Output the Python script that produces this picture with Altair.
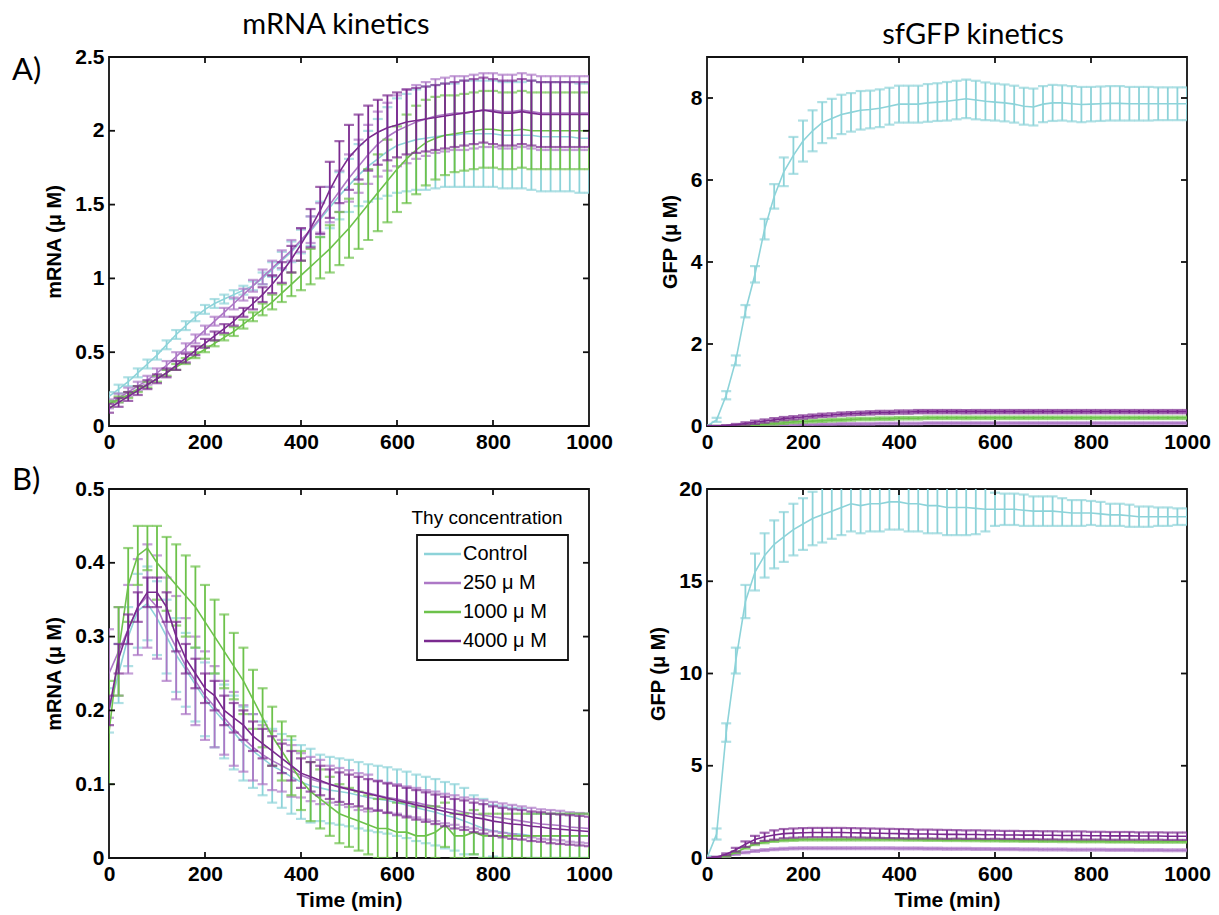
import altair as alt
import pandas as pd

TIME = list(range(0, 1001, 20))
SERIES = ["Control", "250 μ M", "1000 μ M", "4000 μ M"]
COLORS = ["#8dd3d9", "#ad78c6", "#6dc24b", "#7a2a8f"]
X_TICKS = [0, 200, 400, 600, 800, 1000]

# ---------------- A) mRNA (uM) ----------------
A_MRNA_CTRL = [0.20, 0.25, 0.30, 0.36, 0.42, 0.48, 0.55, 0.62, 0.68, 0.74,
               0.79, 0.83, 0.86, 0.89, 0.92, 0.95, 1.00, 1.06, 1.12, 1.18,
               1.25, 1.32, 1.40, 1.48, 1.56, 1.63, 1.70, 1.76, 1.81, 1.86,
               1.90, 1.92, 1.94, 1.95, 1.96, 1.97, 1.97, 1.98, 1.98, 1.98,
               1.98, 1.97, 1.97, 1.97, 1.97, 1.96, 1.96, 1.96, 1.96, 1.95,
               1.95]
A_MRNA_CTRL_ERR = [0.03, 0.03, 0.03, 0.03, 0.03, 0.03, 0.03, 0.03, 0.03, 0.03,
                   0.03, 0.03, 0.03, 0.03, 0.03, 0.03, 0.04, 0.05, 0.06, 0.07,
                   0.08, 0.10, 0.12, 0.14, 0.16, 0.18, 0.21, 0.24, 0.27, 0.30,
                   0.32, 0.33, 0.34, 0.35, 0.35, 0.35, 0.35, 0.36, 0.36, 0.36,
                   0.36, 0.36, 0.36, 0.36, 0.37, 0.37, 0.37, 0.37, 0.37, 0.37,
                   0.37]
A_MRNA_250 = [0.15, 0.19, 0.23, 0.27, 0.31, 0.36, 0.41, 0.47, 0.53, 0.59,
              0.65, 0.71, 0.77, 0.83, 0.89, 0.95, 1.01, 1.07, 1.13, 1.19,
              1.26, 1.33, 1.41, 1.50, 1.59, 1.68, 1.76, 1.84, 1.91, 1.96,
              2.00, 2.03, 2.06, 2.08, 2.10, 2.11, 2.12, 2.12, 2.13, 2.14,
              2.14, 2.13, 2.13, 2.14, 2.13, 2.12, 2.12, 2.12, 2.12, 2.12,
              2.12]
A_MRNA_250_ERR = [0.03, 0.03, 0.03, 0.03, 0.03, 0.03, 0.03, 0.03, 0.03, 0.03,
                  0.03, 0.03, 0.03, 0.04, 0.04, 0.04, 0.05, 0.05, 0.06, 0.07,
                  0.08, 0.09, 0.10, 0.12, 0.14, 0.16, 0.18, 0.20, 0.22, 0.23,
                  0.24, 0.25, 0.25, 0.25, 0.25, 0.25, 0.25, 0.25, 0.25, 0.25,
                  0.25, 0.25, 0.25, 0.25, 0.25, 0.25, 0.25, 0.25, 0.25, 0.25,
                  0.25]
A_MRNA_1000 = [0.15, 0.18, 0.21, 0.25, 0.28, 0.32, 0.36, 0.40, 0.44, 0.48,
               0.52, 0.56, 0.60, 0.64, 0.69, 0.74, 0.79, 0.84, 0.90, 0.96,
               1.02, 1.08, 1.14, 1.20, 1.27, 1.34, 1.42, 1.50, 1.58, 1.66,
               1.74, 1.81, 1.87, 1.92, 1.95, 1.97, 1.98, 1.99, 2.00, 2.01,
               2.01, 2.00, 2.00, 2.01, 2.00, 2.00, 2.00, 2.00, 2.00, 2.00,
               2.00]
A_MRNA_1000_ERR = [0.02, 0.02, 0.02, 0.02, 0.02, 0.02, 0.02, 0.02, 0.02, 0.02,
                   0.02, 0.02, 0.02, 0.03, 0.03, 0.03, 0.04, 0.05, 0.06, 0.08,
                   0.10, 0.12, 0.14, 0.16, 0.18, 0.20, 0.22, 0.24, 0.26, 0.28,
                   0.29, 0.30, 0.30, 0.29, 0.28, 0.27, 0.26, 0.26, 0.26, 0.26,
                   0.26, 0.26, 0.26, 0.26, 0.26, 0.26, 0.26, 0.26, 0.26, 0.26,
                   0.26]
A_MRNA_4000 = [0.12, 0.16, 0.20, 0.24, 0.28, 0.32, 0.36, 0.41, 0.46, 0.51,
               0.56, 0.61, 0.66, 0.71, 0.77, 0.83, 0.89, 0.96, 1.04, 1.13,
               1.23, 1.34, 1.46, 1.60, 1.72, 1.82, 1.89, 1.95, 1.99, 2.02,
               2.04, 2.06, 2.07, 2.08, 2.09, 2.10, 2.11, 2.12, 2.13, 2.14,
               2.13, 2.12, 2.12, 2.13, 2.12, 2.11, 2.11, 2.11, 2.11, 2.11,
               2.11]
A_MRNA_4000_ERR = [0.03, 0.03, 0.03, 0.03, 0.03, 0.03, 0.03, 0.03, 0.03, 0.03,
                   0.03, 0.03, 0.03, 0.03, 0.03, 0.04, 0.05, 0.06, 0.07, 0.09,
                   0.11, 0.13, 0.16, 0.19, 0.21, 0.22, 0.22, 0.22, 0.22, 0.22,
                   0.22, 0.22, 0.22, 0.22, 0.22, 0.22, 0.22, 0.22, 0.22, 0.22,
                   0.22, 0.22, 0.22, 0.22, 0.22, 0.22, 0.22, 0.22, 0.22, 0.22,
                   0.22]

# ---------------- A) GFP (uM) ----------------
A_GFP_CTRL = [0.00, 0.15, 0.75, 1.60, 2.80, 3.70, 4.80, 5.60, 6.20, 6.60,
              6.95, 7.20, 7.40, 7.50, 7.60, 7.65, 7.70, 7.72, 7.75, 7.80,
              7.85, 7.85, 7.85, 7.88, 7.90, 7.92, 7.95, 7.98, 7.95, 7.92,
              7.90, 7.88, 7.85, 7.80, 7.78, 7.85, 7.88, 7.88, 7.86, 7.84,
              7.85, 7.86, 7.87, 7.87, 7.86, 7.86, 7.86, 7.86, 7.86, 7.86,
              7.86]
A_GFP_CTRL_ERR = [0.02, 0.05, 0.10, 0.12, 0.15, 0.20, 0.25, 0.30, 0.35, 0.45,
                  0.50, 0.50, 0.50, 0.48, 0.48, 0.47, 0.47, 0.46, 0.46, 0.45,
                  0.45, 0.45, 0.45, 0.46, 0.46, 0.47, 0.47, 0.47, 0.47, 0.46,
                  0.45, 0.45, 0.45, 0.45, 0.45, 0.44, 0.44, 0.43, 0.43, 0.43,
                  0.42, 0.42, 0.42, 0.42, 0.41, 0.41, 0.41, 0.40, 0.40, 0.40,
                  0.40]
A_GFP_250 = [0.00, 0.00, 0.00, 0.00, 0.00, 0.00, 0.01, 0.01, 0.02, 0.02,
             0.03, 0.03, 0.04, 0.04, 0.05, 0.05, 0.05, 0.05, 0.06, 0.06,
             0.06, 0.06, 0.06, 0.07, 0.07, 0.07, 0.07, 0.07, 0.07, 0.07,
             0.07, 0.07, 0.07, 0.07, 0.07, 0.07, 0.07, 0.07, 0.07, 0.07,
             0.07, 0.07, 0.07, 0.07, 0.07, 0.07, 0.07, 0.07, 0.07, 0.07,
             0.07]
A_GFP_250_ERR = [0.00, 0.00, 0.00, 0.00, 0.00, 0.01, 0.01, 0.02, 0.02, 0.02,
                 0.02, 0.02, 0.02, 0.02, 0.02, 0.02, 0.02, 0.02, 0.02, 0.02,
                 0.02, 0.02, 0.02, 0.02, 0.02, 0.02, 0.02, 0.02, 0.02, 0.02,
                 0.02, 0.02, 0.02, 0.02, 0.02, 0.02, 0.02, 0.02, 0.02, 0.02,
                 0.02, 0.02, 0.02, 0.02, 0.02, 0.02, 0.02, 0.02, 0.02, 0.02,
                 0.02]
A_GFP_1000 = [0.00, 0.00, 0.00, 0.00, 0.01, 0.02, 0.04, 0.06, 0.08, 0.10,
              0.11, 0.12, 0.13, 0.14, 0.15, 0.16, 0.17, 0.17, 0.18, 0.18,
              0.19, 0.19, 0.19, 0.20, 0.20, 0.20, 0.20, 0.20, 0.20, 0.20,
              0.20, 0.20, 0.20, 0.20, 0.20, 0.20, 0.20, 0.20, 0.20, 0.20,
              0.20, 0.20, 0.20, 0.20, 0.20, 0.20, 0.20, 0.20, 0.20, 0.20,
              0.20]
A_GFP_1000_ERR = [0.00, 0.00, 0.00, 0.01, 0.01, 0.02, 0.02, 0.03, 0.03, 0.03,
                  0.03, 0.03, 0.03, 0.03, 0.03, 0.03, 0.03, 0.03, 0.03, 0.03,
                  0.03, 0.03, 0.03, 0.03, 0.03, 0.03, 0.03, 0.03, 0.03, 0.03,
                  0.03, 0.03, 0.03, 0.03, 0.03, 0.03, 0.03, 0.03, 0.03, 0.03,
                  0.03, 0.03, 0.03, 0.03, 0.03, 0.03, 0.03, 0.03, 0.03, 0.03,
                  0.03]
A_GFP_4000 = [0.00, 0.00, 0.01, 0.03, 0.06, 0.09, 0.12, 0.15, 0.18, 0.20,
              0.22, 0.24, 0.26, 0.27, 0.29, 0.30, 0.31, 0.32, 0.33, 0.33,
              0.34, 0.34, 0.35, 0.35, 0.35, 0.35, 0.35, 0.35, 0.35, 0.35,
              0.35, 0.35, 0.35, 0.35, 0.35, 0.35, 0.35, 0.35, 0.35, 0.35,
              0.35, 0.35, 0.35, 0.35, 0.35, 0.35, 0.35, 0.35, 0.35, 0.35,
              0.35]
A_GFP_4000_ERR = [0.00, 0.00, 0.01, 0.02, 0.03, 0.04, 0.04, 0.04, 0.04, 0.04,
                  0.04, 0.04, 0.04, 0.04, 0.04, 0.04, 0.04, 0.04, 0.04, 0.04,
                  0.04, 0.04, 0.04, 0.04, 0.04, 0.04, 0.04, 0.04, 0.04, 0.04,
                  0.04, 0.04, 0.04, 0.04, 0.04, 0.04, 0.04, 0.04, 0.04, 0.04,
                  0.04, 0.04, 0.04, 0.04, 0.04, 0.04, 0.04, 0.04, 0.04, 0.04,
                  0.04]

# ---------------- B) mRNA (uM) ----------------
B_MRNA_CTRL = [0.20, 0.25, 0.30, 0.335, 0.345, 0.325, 0.30, 0.275, 0.255, 0.235,
               0.215, 0.20, 0.185, 0.17, 0.155, 0.145, 0.135, 0.125, 0.118, 0.11,
               0.103, 0.098, 0.095, 0.092, 0.09, 0.088, 0.085, 0.082, 0.08, 0.078,
               0.075, 0.072, 0.068, 0.065, 0.062, 0.058, 0.055, 0.05, 0.045, 0.04,
               0.037, 0.035, 0.033, 0.032, 0.03, 0.03, 0.03, 0.03, 0.03, 0.03,
               0.03]
B_MRNA_CTRL_ERR = [0.03, 0.04, 0.04, 0.05, 0.05, 0.05, 0.05, 0.05, 0.05, 0.05,
                   0.05, 0.05, 0.05, 0.05, 0.05, 0.05, 0.05, 0.05, 0.05, 0.05,
                   0.05, 0.05, 0.045, 0.045, 0.045, 0.045, 0.045, 0.045, 0.045, 0.045,
                   0.045, 0.045, 0.045, 0.045, 0.045, 0.045, 0.045, 0.045, 0.04, 0.04,
                   0.035, 0.035, 0.035, 0.035, 0.03, 0.03, 0.03, 0.03, 0.03, 0.03,
                   0.03]
B_MRNA_250 = [0.25, 0.28, 0.31, 0.34, 0.355, 0.34, 0.31, 0.285, 0.26, 0.24,
              0.22, 0.205, 0.19, 0.175, 0.162, 0.15, 0.14, 0.132, 0.125, 0.118,
              0.112, 0.107, 0.103, 0.10, 0.097, 0.094, 0.09, 0.088, 0.085, 0.082,
              0.08, 0.077, 0.075, 0.072, 0.07, 0.067, 0.065, 0.062, 0.06, 0.058,
              0.056, 0.054, 0.052, 0.05, 0.048, 0.046, 0.045, 0.044, 0.042, 0.041,
              0.04]
B_MRNA_250_ERR = [0.06, 0.06, 0.06, 0.065, 0.07, 0.07, 0.07, 0.07, 0.065, 0.06,
                  0.06, 0.055, 0.05, 0.05, 0.045, 0.045, 0.04, 0.04, 0.035, 0.035,
                  0.03, 0.03, 0.03, 0.025, 0.025, 0.025, 0.025, 0.025, 0.02, 0.02,
                  0.02, 0.02, 0.02, 0.02, 0.02, 0.02, 0.02, 0.02, 0.02, 0.02,
                  0.02, 0.02, 0.02, 0.02, 0.02, 0.02, 0.02, 0.02, 0.02, 0.02,
                  0.02]
B_MRNA_1000 = [0.17, 0.28, 0.37, 0.41, 0.42, 0.40, 0.385, 0.37, 0.355, 0.34,
               0.32, 0.30, 0.28, 0.26, 0.24, 0.215, 0.19, 0.165, 0.145, 0.125,
               0.105, 0.09, 0.08, 0.07, 0.06, 0.055, 0.05, 0.045, 0.04, 0.04,
               0.035, 0.035, 0.03, 0.03, 0.035, 0.045, 0.03, 0.03, 0.035, 0.03,
               0.03, 0.03, 0.03, 0.03, 0.03, 0.03, 0.03, 0.03, 0.03, 0.03,
               0.03]
B_MRNA_1000_ERR = [0.07, 0.06, 0.05, 0.04, 0.03, 0.05, 0.05, 0.055, 0.055, 0.055,
                   0.05, 0.05, 0.05, 0.045, 0.045, 0.04, 0.04, 0.04, 0.04, 0.04,
                   0.04, 0.04, 0.04, 0.04, 0.04, 0.04, 0.04, 0.04, 0.04, 0.04,
                   0.04, 0.04, 0.04, 0.04, 0.035, 0.03, 0.03, 0.03, 0.03, 0.03,
                   0.03, 0.03, 0.03, 0.03, 0.03, 0.03, 0.03, 0.03, 0.03, 0.03,
                   0.03]
B_MRNA_4000 = [0.20, 0.27, 0.31, 0.34, 0.36, 0.36, 0.34, 0.30, 0.27, 0.25,
               0.23, 0.22, 0.20, 0.19, 0.18, 0.165, 0.155, 0.145, 0.135, 0.125,
               0.115, 0.11, 0.105, 0.10, 0.096, 0.093, 0.09, 0.087, 0.084, 0.081,
               0.078, 0.075, 0.072, 0.069, 0.066, 0.063, 0.06, 0.058, 0.055, 0.053,
               0.05, 0.048, 0.046, 0.045, 0.043, 0.042, 0.04, 0.039, 0.038, 0.037,
               0.036]
B_MRNA_4000_ERR = [0.02, 0.02, 0.02, 0.02, 0.02, 0.02, 0.02, 0.02, 0.02, 0.02,
                   0.02, 0.02, 0.02, 0.02, 0.02, 0.02, 0.02, 0.02, 0.02, 0.02,
                   0.02, 0.02, 0.02, 0.02, 0.02, 0.02, 0.02, 0.02, 0.02, 0.02,
                   0.02, 0.02, 0.02, 0.02, 0.02, 0.02, 0.02, 0.02, 0.02, 0.02,
                   0.02, 0.02, 0.02, 0.02, 0.02, 0.02, 0.02, 0.02, 0.02, 0.02,
                   0.02]

# ---------------- B) GFP (uM) ----------------
B_GFP_CTRL = [0.0, 1.3, 6.8, 10.7, 13.9, 15.5, 16.4, 17.0, 17.4, 17.8,
              18.1, 18.4, 18.6, 18.8, 19.0, 19.2, 19.1, 19.2, 19.2, 19.3,
              19.3, 19.2, 19.2, 19.1, 19.1, 19.0, 19.0, 19.0, 18.95, 18.9,
              18.9, 18.9, 18.9, 18.85, 18.8, 18.8, 18.8, 18.75, 18.7, 18.7,
              18.7, 18.65, 18.6, 18.6, 18.55, 18.5, 18.5, 18.5, 18.5, 18.5,
              18.5]
B_GFP_CTRL_ERR = [0.1, 0.3, 0.5, 0.7, 0.9, 1.0, 1.2, 1.3, 1.35, 1.4,
                  1.4, 1.45, 1.5, 1.5, 1.5, 1.5, 1.5, 1.5, 1.5, 1.5,
                  1.5, 1.5, 1.5, 1.5, 1.5, 1.5, 1.5, 1.5, 1.4, 1.2,
                  0.9, 0.85, 0.85, 0.85, 0.8, 0.8, 0.8, 0.75, 0.7, 0.7,
                  0.65, 0.65, 0.6, 0.6, 0.6, 0.55, 0.55, 0.5, 0.5, 0.45,
                  0.45]
B_GFP_250 = [0.0, 0.02, 0.08, 0.2, 0.3, 0.38, 0.43, 0.47, 0.5, 0.52,
             0.53, 0.53, 0.53, 0.53, 0.53, 0.53, 0.53, 0.53, 0.53, 0.53,
             0.52, 0.52, 0.52, 0.51, 0.51, 0.5, 0.5, 0.5, 0.49, 0.49,
             0.48, 0.48, 0.48, 0.47, 0.47, 0.46, 0.46, 0.46, 0.45, 0.45,
             0.45, 0.45, 0.44, 0.44, 0.44, 0.43, 0.43, 0.43, 0.42, 0.42,
             0.42]
B_GFP_250_ERR = [0.0, 0.01, 0.02, 0.03, 0.04, 0.05, 0.05, 0.05, 0.05, 0.05,
                 0.05, 0.05, 0.05, 0.05, 0.05, 0.05, 0.05, 0.05, 0.05, 0.05,
                 0.05, 0.05, 0.05, 0.05, 0.05, 0.05, 0.05, 0.05, 0.05, 0.05,
                 0.05, 0.05, 0.05, 0.05, 0.05, 0.05, 0.05, 0.05, 0.05, 0.05,
                 0.05, 0.05, 0.05, 0.05, 0.05, 0.05, 0.05, 0.05, 0.05, 0.05,
                 0.05]
B_GFP_1000 = [0.0, 0.02, 0.1, 0.3, 0.55, 0.75, 0.85, 0.92, 0.96, 0.98,
              1.0, 1.0, 1.0, 1.0, 1.0, 1.0, 1.0, 1.0, 1.0, 1.0,
              1.0, 0.99, 0.99, 0.98, 0.98, 0.97, 0.97, 0.96, 0.96, 0.95,
              0.95, 0.94, 0.94, 0.93, 0.93, 0.92, 0.92, 0.91, 0.91, 0.9,
              0.9, 0.9, 0.89, 0.89, 0.89, 0.88, 0.88, 0.88, 0.88, 0.88,
              0.88]
B_GFP_1000_ERR = [0.0, 0.01, 0.02, 0.03, 0.04, 0.05, 0.05, 0.05, 0.05, 0.05,
                  0.05, 0.05, 0.05, 0.05, 0.05, 0.05, 0.05, 0.05, 0.05, 0.05,
                  0.05, 0.05, 0.05, 0.05, 0.05, 0.05, 0.05, 0.05, 0.05, 0.05,
                  0.05, 0.05, 0.05, 0.05, 0.05, 0.05, 0.05, 0.05, 0.05, 0.05,
                  0.05, 0.05, 0.05, 0.05, 0.05, 0.05, 0.05, 0.05, 0.05, 0.05,
                  0.05]
B_GFP_4000 = [0.0, 0.05, 0.2, 0.45, 0.75, 1.0, 1.15, 1.25, 1.32, 1.35,
              1.37, 1.38, 1.38, 1.38, 1.38, 1.37, 1.36, 1.35, 1.34, 1.33,
              1.32, 1.31, 1.3, 1.3, 1.29, 1.28, 1.28, 1.27, 1.27, 1.26,
              1.26, 1.25, 1.25, 1.24, 1.24, 1.23, 1.23, 1.22, 1.22, 1.22,
              1.21, 1.21, 1.2, 1.2, 1.2, 1.19, 1.19, 1.19, 1.18, 1.18,
              1.18]
B_GFP_4000_ERR = [0.0, 0.02, 0.05, 0.1, 0.15, 0.2, 0.22, 0.25, 0.25, 0.25,
                  0.25, 0.25, 0.25, 0.25, 0.25, 0.25, 0.25, 0.25, 0.25, 0.25,
                  0.25, 0.25, 0.24, 0.24, 0.24, 0.24, 0.23, 0.23, 0.23, 0.23,
                  0.22, 0.22, 0.22, 0.22, 0.22, 0.22, 0.22, 0.22, 0.22, 0.22,
                  0.21, 0.21, 0.21, 0.21, 0.21, 0.2, 0.2, 0.2, 0.2, 0.2,
                  0.2]

W, H = 480, 369
NUM_FONT = "Liberation Sans"
TITLE_FONT = "Lato"
TICK_LEN = 6
LABEL_EXPR = "toString(datum.value)"
FRAME = alt.ViewBackground(stroke="#111111", strokeWidth=1.8, fill="white")


def make_panel(means, errs, ydom, yticks, ytitle, xtitle,
               letter=None, letter_y=0, title=None, title_dx=0, legend=False):
    rows = []
    for s, ms, es in zip(SERIES, means, errs):
        if len(ms) != len(TIME) or len(es) != len(TIME):
            raise ValueError(f"length mismatch {s}: {len(ms)} {len(es)}")
        for t, m, e in zip(TIME, ms, es):
            rows.append({"t": t, "s": s, "m": m, "lo": m - e, "hi": m + e})
    df = pd.DataFrame(rows)

    xaxis = alt.Axis(values=X_TICKS, labelExpr=LABEL_EXPR, title=xtitle, domain=False,
                     ticks=False, grid=False, labelFlush=False,
                     labelFont=NUM_FONT, labelFontSize=21, labelFontWeight="bold",
                     labelColor="black", labelPadding=5,
                     titleFont=NUM_FONT, titleFontSize=21, titleFontWeight="bold",
                     titleColor="black", titlePadding=5)
    yaxis = alt.Axis(values=yticks, labelExpr=LABEL_EXPR, title=ytitle, domain=False,
                     ticks=False, grid=False, labelFlush=False,
                     labelFont=NUM_FONT, labelFontSize=21, labelFontWeight="bold",
                     labelColor="black", labelPadding=5,
                     titleFont=NUM_FONT, titleFontSize=20, titleFontWeight="bold",
                     titleColor="black", titlePadding=10)
    xscale = alt.Scale(domain=[0, 1000], nice=False, zero=False)
    yscale = alt.Scale(domain=ydom, nice=False, zero=False)
    xenc = alt.X("t:Q", scale=xscale, axis=xaxis)
    color = alt.Color("s:N", scale=alt.Scale(domain=SERIES, range=COLORS), legend=None)

    layers = []
    for s in SERIES:
        b = alt.Chart(df).transform_filter(alt.datum.s == s)
        layers.append(b.mark_rule(strokeWidth=1.8, clip=True).encode(
            x=xenc, y=alt.Y("lo:Q", scale=yscale, axis=yaxis), y2="hi:Q", color=color))
        layers.append(b.mark_tick(orient="horizontal", size=10, thickness=2.2, clip=True).encode(
            x=xenc, y=alt.Y("lo:Q", scale=yscale, axis=yaxis), color=color))
        layers.append(b.mark_tick(orient="horizontal", size=10, thickness=2.2, clip=True).encode(
            x=xenc, y=alt.Y("hi:Q", scale=yscale, axis=yaxis), color=color))
        layers.append(b.mark_line(strokeWidth=1.6, clip=True).encode(
            x=xenc, y=alt.Y("m:Q", scale=yscale, axis=yaxis), color=color))

    # MATLAB-style inward ticks on all four sides
    inner_x = [v for v in X_TICKS if 0 < v < 1000]
    inner_y = [v for v in yticks if ydom[0] < v < ydom[1]]
    tx = alt.Chart(pd.DataFrame({"t": inner_x}))
    ty = alt.Chart(pd.DataFrame({"m": inner_y}))
    tick_style = dict(color="#111111", strokeWidth=1.8)
    layers.append(tx.mark_rule(**tick_style).encode(x=xenc, y=alt.value(H - TICK_LEN), y2=alt.value(H)))
    layers.append(tx.mark_rule(**tick_style).encode(x=xenc, y=alt.value(0), y2=alt.value(TICK_LEN)))
    layers.append(ty.mark_rule(**tick_style).encode(
        y=alt.Y("m:Q", scale=yscale, axis=yaxis), x=alt.value(0), x2=alt.value(TICK_LEN)))
    layers.append(ty.mark_rule(**tick_style).encode(
        y=alt.Y("m:Q", scale=yscale, axis=yaxis), x=alt.value(W - TICK_LEN), x2=alt.value(W)))

    if letter:
        layers.append(alt.Chart(pd.DataFrame({"l": [letter]})).mark_text(
            align="left", baseline="middle", font=TITLE_FONT, fontSize=31, color="black"
        ).encode(x=alt.value(-97), y=alt.value(letter_y), text="l:N"))

    panel = alt.layer(*layers)

    if legend:
        leg_df = pd.DataFrame({"s": SERIES})
        ly = alt.Y("s:N", scale=alt.Scale(type="point", domain=SERIES, range=[65, 152], padding=0),
                   axis=None)
        box = alt.Chart(pd.DataFrame({"k": [0]})).mark_rect(
            fill="white", stroke="#111111", strokeWidth=1.8
        ).encode(x=alt.value(308), x2=alt.value(459), y=alt.value(46), y2=alt.value(171))
        sym = alt.Chart(leg_df).mark_rule(strokeWidth=2.4).encode(
            x=alt.value(315), x2=alt.value(352), y=ly, color=color)
        lab = alt.Chart(leg_df).mark_text(
            align="left", baseline="middle", font=NUM_FONT, fontSize=20, color="black"
        ).encode(x=alt.value(354), y=ly, text="s:N")
        ttl = alt.Chart(pd.DataFrame({"l": ["Thy concentration"]})).mark_text(
            align="center", baseline="middle", font=NUM_FONT, fontSize=19, color="black"
        ).encode(x=alt.value(378), y=alt.value(29), text="l:N")
        panel = alt.layer(panel, alt.layer(box, sym, lab, ttl)).resolve_scale(y="independent")

    props = dict(width=W, height=H, view=FRAME)
    if title:
        props["title"] = alt.TitleParams(title, font=TITLE_FONT, fontSize=29, fontWeight="normal",
                                         color="black", anchor="middle", frame="group",
                                         offset=6, dx=title_dx)
    return panel.properties(**props)


pA1 = make_panel([A_MRNA_CTRL, A_MRNA_250, A_MRNA_1000, A_MRNA_4000],
                 [A_MRNA_CTRL_ERR, A_MRNA_250_ERR, A_MRNA_1000_ERR, A_MRNA_4000_ERR],
                 [0, 2.5], [0, 0.5, 1, 1.5, 2, 2.5], "mRNA (μ M)", None,
                 letter="A)", letter_y=14, title="mRNA kinetics", title_dx=-13)
pA2 = make_panel([A_GFP_CTRL, A_GFP_250, A_GFP_1000, A_GFP_4000],
                 [A_GFP_CTRL_ERR, A_GFP_250_ERR, A_GFP_1000_ERR, A_GFP_4000_ERR],
                 [0, 9], [0, 2, 4, 6, 8], "GFP (μ M)", None,
                 title="sfGFP kinetics", title_dx=26)
pB1 = make_panel([B_MRNA_CTRL, B_MRNA_250, B_MRNA_1000, B_MRNA_4000],
                 [B_MRNA_CTRL_ERR, B_MRNA_250_ERR, B_MRNA_1000_ERR, B_MRNA_4000_ERR],
                 [0, 0.5], [0, 0.1, 0.2, 0.3, 0.4, 0.5], "mRNA (μ M)", "Time (min)",
                 letter="B)", letter_y=-8, legend=True)
pB2 = make_panel([B_GFP_CTRL, B_GFP_250, B_GFP_1000, B_GFP_4000],
                 [B_GFP_CTRL_ERR, B_GFP_250_ERR, B_GFP_1000_ERR, B_GFP_4000_ERR],
                 [0, 20], [0, 5, 10, 15, 20], "GFP (μ M)", "Time (min)")

chart = alt.concat(
    pA1, pA2, pB1, pB2, columns=2,
    spacing={"row": 63, "column": 118}, bounds="flush"
).properties(
    padding={"left": 11, "top": 10, "right": 4, "bottom": 4},
    background="white"
).configure_view(stroke="#111111", strokeWidth=1.8)

chart.save("out.html", embed_options={"renderer": "svg", "actions": False})
